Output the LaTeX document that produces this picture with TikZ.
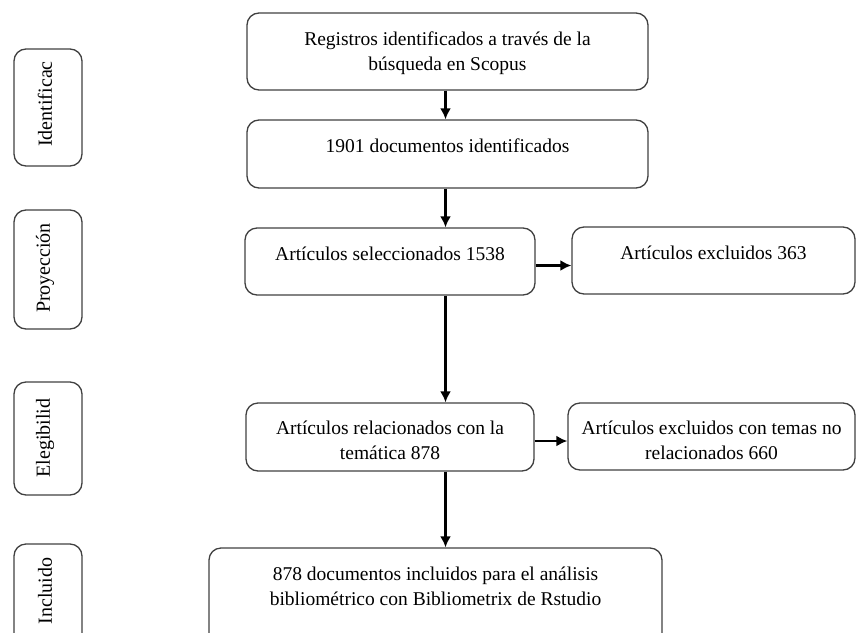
\documentclass[tikz,border=0pt]{standalone}
\usepackage{fontspec}
\setmainfont{Liberation Serif}
\usetikzlibrary{arrows.meta}
\tikzset{
	caja/.style={draw=black!75, line width=1.3pt, rounded corners=12pt, inner sep=0pt},
	texto/.style={anchor=north, inner sep=0pt, align=center, font=\fontsize{19.5}{25}\selectfont},
	fase/.style={rotate=90, inner sep=0pt, font=\fontsize{20}{25}\selectfont},
	flecha/.style={line width=2.3pt, -{Latex[length=11pt,width=11pt]}}
}

\begin{document}
\begin{tikzpicture}[x=1pt,y=-1pt]
		\clip (0,0) rectangle (856,632);
		% fases
		\node[caja, minimum width=68pt, minimum height=117pt] (f1) at (48,107.5) {};
		\node[caja, minimum width=68pt, minimum height=119pt] (f2) at (48,269.5) {};
		\node[caja, minimum width=68pt, minimum height=113pt] (f3) at (48,438.5) {};
		\node[caja, minimum width=68pt, minimum height=120pt] (f4) at (48,604) {};
		\node[fase] (n1) at (45,104) {Identificac};
		\node[fase] (n2) at (45,268) {Proyección};
		\node[fase] (n3) at (45,438) {Elegibilid};
		\node[fase] (n4) at (45,591) {Incluido};
		% cajas principales
		\node[caja, minimum width=401pt, minimum height=77pt] (b1) at (447.5,51.5) {};
		\node[caja, minimum width=401pt, minimum height=68pt] (b2) at (447.5,154) {};
		\node[caja, minimum width=290pt, minimum height=67pt] (b3) at (390,261.5) {};
		\node[caja, minimum width=288pt, minimum height=68pt] (b4) at (390,437) {};
		\node[caja, minimum width=453pt, minimum height=120pt] (b5) at (435.5,608) {};
		\node[caja, minimum width=283pt, minimum height=67pt] (x3) at (713.5,260.5) {};
		\node[caja, minimum width=287pt, minimum height=67pt] (x4) at (711.5,436.5) {};
		% textos
		\node[texto] (t1) at ([yshift=-19pt]b1.north) {Registros identificados a través de la\\búsqueda en Scopus};
		\node[texto] (t2) at ([yshift=-19pt]b2.north) {1901 documentos identificados};
		\node[texto] (t3) at ([yshift=-19pt]b3.north) {Artículos seleccionados 1538};
		\node[texto] (t4) at ([yshift=-18pt]b4.north) {Artículos relacionados con la\\temática 878};
		\node[texto] (t5) at ([yshift=-19pt]b5.north) {878 documentos incluidos para el análisis\\bibliométrico con Bibliometrix de Rstudio};
		\node[texto] (tx3) at ([yshift=-19pt]x3.north) {Artículos excluidos 363};
		\node[texto] (tx4) at ([yshift=-18pt]x4.north) {Artículos excluidos con temas no\\relacionados 660};
		% flechas
		\draw[flecha] ([xshift=-2pt]b1.south) -- ([xshift=-2pt]b1.south |- b2.north);
		\draw[flecha] ([xshift=-2pt]b2.south) -- ([xshift=-2pt]b2.south |- b3.north);
		\draw[flecha] ([xshift=-2pt]b2.south |- b3.south) -- ([xshift=-2pt]b2.south |- b4.north);
		\draw[flecha] ([xshift=-2pt]b2.south |- b4.south) -- ([xshift=-2pt]b2.south |- b5.north);
		\draw[flecha] ([yshift=-4pt]b3.east) -- ([yshift=-4pt]b3.east -| x3.west);
		\draw[flecha] ([yshift=-4pt]b4.east) -- ([yshift=-4pt]b4.east -| x4.west);
\end{tikzpicture}
\end{document}
